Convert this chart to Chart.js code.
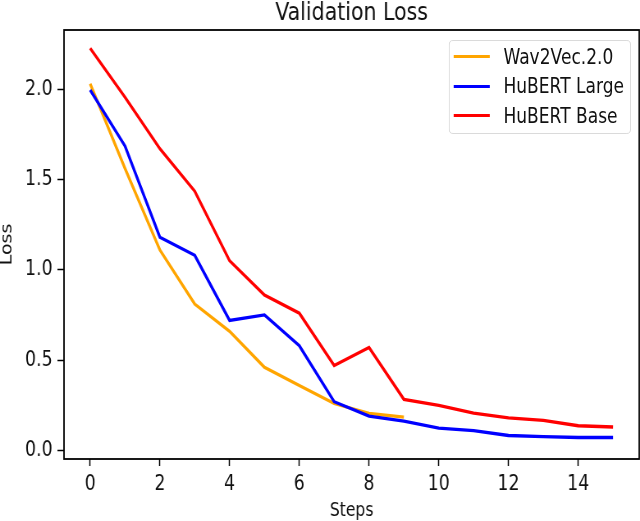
<!DOCTYPE html>
<html><head><meta charset="utf-8">
<script src="https://cdn.jsdelivr.net/npm/chart.js@4.4.1/dist/chart.umd.min.js"></script>
<style>
html,body{margin:0;padding:0;background:#fff;overflow:hidden;width:640px;height:521px;}
#wrap{position:absolute;left:0;top:0;width:780px;height:521px;transform:scaleX(0.820513);transform-origin:0 0;}
canvas{display:block}
#legend{position:absolute;left:547px;top:40px;width:222px;height:94px;border:1.5px solid #d6d6d6;border-radius:5px;box-sizing:border-box;background:rgba(255,255,255,0.8);font-family:'DejaVu Sans';font-size:20.8px;color:#111;}
.row{position:absolute;left:4.5px;height:30px;line-height:30px;white-space:nowrap}
.sw{position:absolute;left:0;top:13.5px;width:44px;height:3px}
.lbl{position:absolute;left:61px;top:0}
</style></head>
<body><div id="wrap"><canvas id="c" width="780" height="521"></canvas><div id="legend"></div></div>
<script>
const steps = [0,1,2,3,4,5,6,7,8,9,10,11,12,13,14,15];
const wav2vec = [2.03,1.56,1.11,0.81,0.66,0.46,0.36,0.26,0.205,0.185];
const hubertLarge = [1.995,1.685,1.18,1.08,0.72,0.75,0.58,0.27,0.19,0.163,0.124,0.11,0.083,0.077,0.072,0.072];
const hubertBase = [2.226,1.955,1.67,1.435,1.05,0.86,0.76,0.47,0.57,0.283,0.25,0.207,0.18,0.167,0.137,0.13];
const seriesNames = ['Wav2Vec.2.0','HuBERT Large','HuBERT Base'];
const seriesColors = ['#ffa500','#0000ff','#ff0000'];
const xTicks = [0,2,4,6,8,10,12,14];
const yTicks = [0,0.5,1.0,1.5,2.0];

const seriesValues = [wav2vec, hubertLarge, hubertBase];
const datasets = seriesValues.map((vals,i)=>({
  label: seriesNames[i],
  data: vals.map((v,j)=>({x: steps[j], y: v})),
  borderColor: seriesColors[i],
  backgroundColor: seriesColors[i],
  borderWidth: 3.3,
  pointRadius: 0,
  tension: 0,
  fill: false,
  order: 3 - i
}));

const lg = document.getElementById('legend');
seriesNames.forEach((n,i)=>{
  const r = document.createElement('div');
  r.className='row'; r.style.top = (0.5 + i*29.5)+'px';
  r.innerHTML = '<div class="sw" style="background:'+seriesColors[i]+'"></div><span class="lbl">'+n+'</span>';
  lg.appendChild(r);
});

const framePlugin = {
  id:'frame',
  afterDatasetsDraw(chart){
    const {ctx, chartArea:a} = chart;
    ctx.save(); ctx.strokeStyle='#000'; ctx.lineWidth=1.8;
    ctx.strokeRect(a.left, a.top, a.right-a.left, a.bottom-a.top);
    ctx.restore();
  }
};

const tickFont = {family:'DejaVu Sans', size:21};
new Chart(document.getElementById('c'), {
  type:'line',
  data:{datasets},
  plugins:[framePlugin],
  options:{
    responsive:false, animation:false, devicePixelRatio:1,
    layout:{padding:{left:0,right:1,top:0,bottom:0}},
    plugins:{
      legend:{display:false}, tooltip:{enabled:false},
      title:{display:true, fullSize:false, text:'Validation Loss', color:'#111', font:{family:'DejaVu Sans', size:25, weight:'normal', lineHeight:1}, padding:{top:1,bottom:4}}
    },
    scales:{
      x:{type:'linear', min:-0.75, max:15.75,
        afterBuildTicks:s=>{s.ticks = xTicks.map(v=>({value:v}));},
        afterFit:s=>{s.height=62;},
        ticks:{font:tickFont, color:'#111', padding:6, maxRotation:0, autoSkip:false, callback:v=>String(v)},
        grid:{drawOnChartArea:false, tickLength:7, tickWidth:1.5, tickColor:'#000'},
        border:{display:false},
        title:{display:true, text:'Steps', color:'#111', font:{family:'DejaVu Sans', size:19, lineHeight:1}, padding:{top:0,bottom:0}}
      },
      y:{type:'linear', min:-0.047, max:2.327,
        afterBuildTicks:s=>{s.ticks = yTicks.map(v=>({value:v}));},
        afterFit:s=>{s.width=78;},
        ticks:{font:tickFont, color:'#111', padding:6, autoSkip:false, callback:v=>Number(v).toFixed(1)},
        grid:{drawOnChartArea:false, tickLength:8, tickWidth:1.5, tickColor:'#000'},
        border:{display:false},
        title:{display:true, text:'Loss', color:'#111', font:{family:'DejaVu Sans', size:19, lineHeight:1}, padding:{top:0,bottom:0}}
      }
    }
  }
});
</script>
</body></html>
